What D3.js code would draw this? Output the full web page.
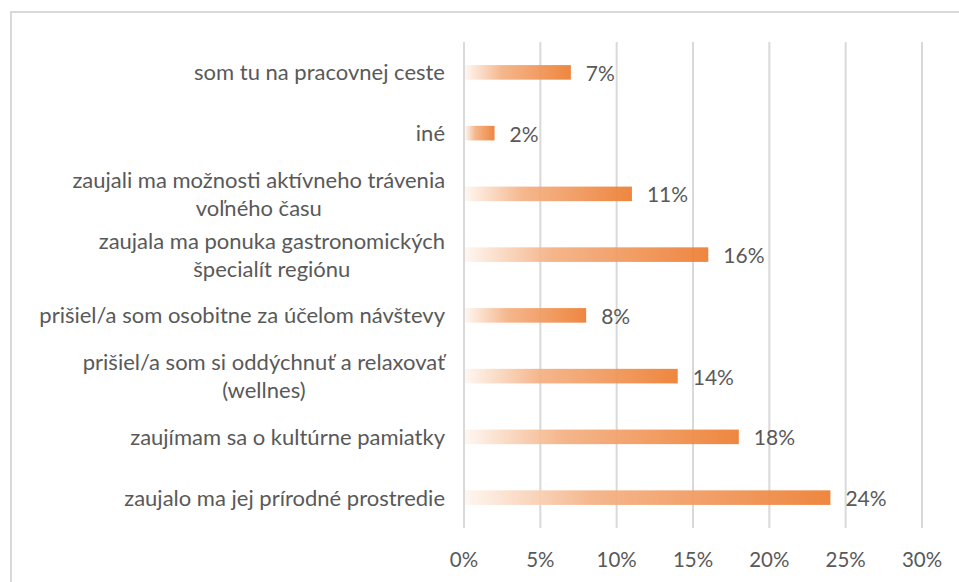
<!DOCTYPE html>
<html>
<head>
<meta charset="utf-8">
<script src="https://cdn.jsdelivr.net/npm/d3@7"></script>
<style>
  html, body { margin: 0; padding: 0; background: #fff; }
  svg text { font-family: Lato, "Open Sans", sans-serif; fill: #595959; }
</style>
</head>
<body>
<div id="app"></div>
<script>
// categories from top to bottom, each item is the list of wrapped lines
const categories = [
  ['som tu na pracovnej ceste'],
  ['iné'],
  ['zaujali ma možnosti aktívneho trávenia', 'voľného času'],
  ['zaujala ma ponuka gastronomických', 'špecialít regiónu'],
  ['prišiel/a som osobitne za účelom návštevy'],
  ['prišiel/a som si oddýchnuť a relaxovať', '(wellnes)'],
  ['zaujímam sa o kultúrne pamiatky'],
  ['zaujalo ma jej prírodné prostredie']
];
const values = [7, 2, 11, 16, 8, 14, 18, 24];
const tickValues = [0, 5, 10, 15, 20, 25, 30];

const width = 959;
const height = 582;
const plotLeft = 464;
const plotRight = 922;
const plotTop = 42;
const plotBottom = 528;

const svg = d3.select('#app').append('svg')
  .attr('width', width)
  .attr('height', height);

// chart frame
svg.append('rect')
  .attr('x', 11)
  .attr('y', 12)
  .attr('width', width)
  .attr('height', height)
  .attr('fill', 'none')
  .attr('stroke', '#d9d9d9')
  .attr('stroke-width', 2);

const x = d3.scaleLinear()
  .domain([0, 30])
  .range([plotLeft, plotRight]);

const y = d3.scaleBand()
  .domain(d3.range(categories.length))
  .range([plotTop, plotBottom])
  .paddingInner(0.76)
  .paddingOuter(0.38);

const grad = svg.append('defs').append('linearGradient')
  .attr('id', 'barGrad')
  .attr('x1', '0%').attr('x2', '100%')
  .attr('y1', '0%').attr('y2', '0%');
grad.append('stop').attr('offset', '0%').attr('stop-color', '#fef6f0');
grad.append('stop').attr('offset', '35%').attr('stop-color', '#f4b184');
grad.append('stop').attr('offset', '100%').attr('stop-color', '#ed7d31');

// gridlines
svg.append('g')
  .selectAll('line')
  .data(tickValues)
  .enter().append('line')
  .attr('x1', d => x(d))
  .attr('x2', d => x(d))
  .attr('y1', plotTop)
  .attr('y2', plotBottom)
  .attr('stroke', '#d9d9d9')
  .attr('stroke-width', 2);

// bars
svg.append('g')
  .selectAll('rect')
  .data(values)
  .enter().append('rect')
  .attr('x', x(0) + 1)
  .attr('y', (d, i) => y(i))
  .attr('width', d => x(d) - x(0) - 1)
  .attr('height', y.bandwidth())
  .attr('fill', 'url(#barGrad)')
  .attr('fill-opacity', 0.93);

// value labels
svg.append('g')
  .selectAll('text')
  .data(values)
  .enter().append('text')
  .attr('x', d => x(d) + 15)
  .attr('y', (d, i) => y(i) + y.bandwidth() / 2)
  .attr('dy', '0.4em')
  .style('font-size', '21px')
  .text(d => d + '%');

// category labels (wrapped lines centered on each other, block right-aligned)
const lineHeight = 28;
const catG = svg.append('g');
categories.forEach((lines, i) => {
  const cy = y(i) + y.bandwidth() / 2;
  const t = catG.append('text')
    .attr('y', cy - (lines.length - 1) * lineHeight / 2)
    .style('font-size', '22px')
    .attr('text-anchor', 'middle');
  lines.forEach((line, j) => {
    t.append('tspan')
      .attr('dy', j === 0 ? '0.36em' : lineHeight)
      .text(line);
  });
  const tspans = t.selectAll('tspan').nodes();
  const maxW = d3.max(tspans, n => n.getComputedTextLength());
  const cx = 445 - maxW / 2;
  t.selectAll('tspan').attr('x', cx);
});

// x axis tick labels
svg.append('g')
  .selectAll('text')
  .data(tickValues)
  .enter().append('text')
  .attr('x', d => x(d))
  .attr('y', 560)
  .attr('dy', '0.36em')
  .attr('text-anchor', 'middle')
  .style('font-size', '20.5px')
  .text(d => d + '%');
</script>
</body>
</html>
